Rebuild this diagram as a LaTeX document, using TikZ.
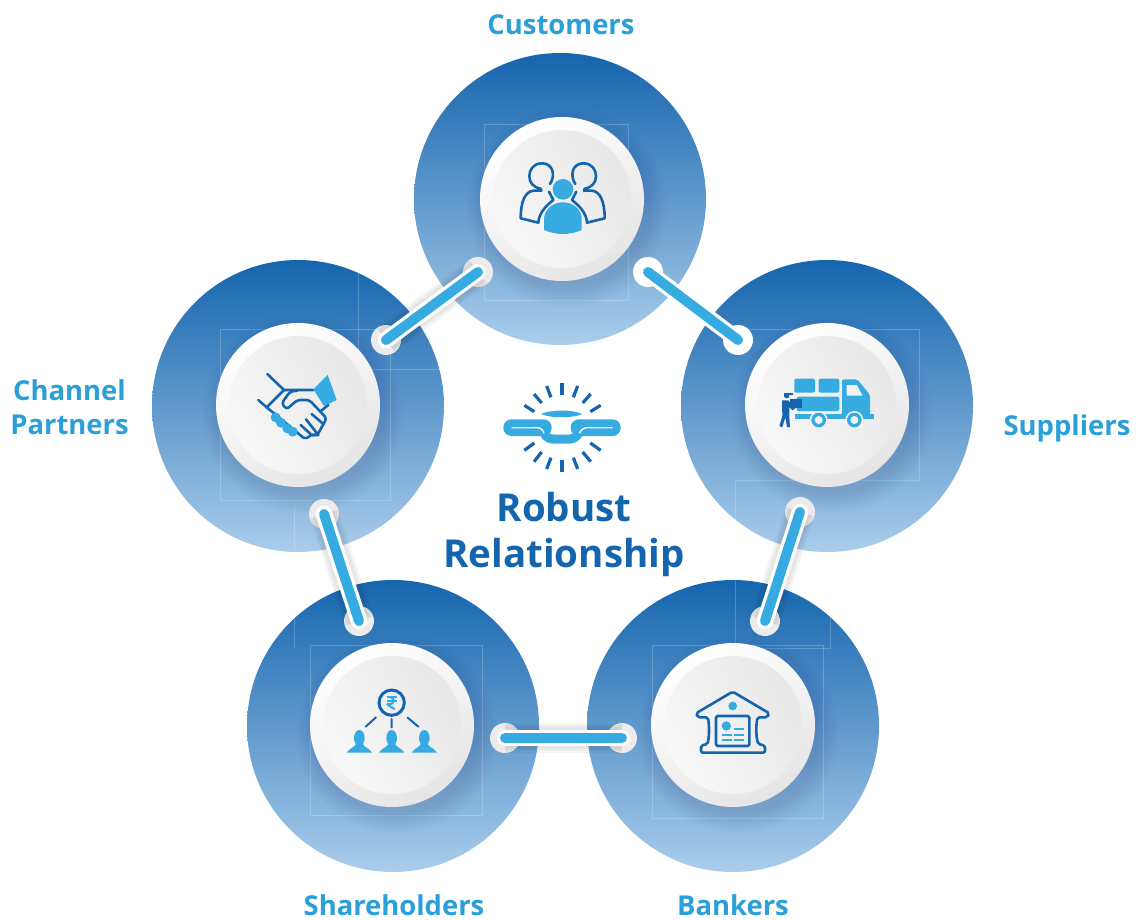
\documentclass[tikz,border=0pt]{standalone}
\usepackage{fontspec}
\setmainfont{Open Sans}
\definecolor{deepblue}{HTML}{1565AE}
\definecolor{paleblue}{HTML}{AACDEB}
\definecolor{skyblue}{HTML}{36ABE2}
\definecolor{labelblue}{HTML}{2A9FD8}
\tikzset{
	bigdisc/.style={circle,minimum size=292,inner sep=0,top color=deepblue,bottom color=paleblue},
	rimdisc/.style={circle,minimum size=164,inner sep=0,shading=axis,left color=white,right color=black!10,shading angle=30},
	facedisc/.style={circle,minimum size=138,inner sep=0,shading=axis,left color=black!9,right color=black!3,shading angle=-60},
	joint/.style={circle,fill=black!8,minimum size=30,inner sep=0},
	whitejoint/.style={joint,fill=white},
	casing/.style={white,line width=16.5,line cap=round},
	linkbar/.style={skyblue,line width=10,line cap=round},
	barshade/.style={black,opacity=.035,line cap=butt},
	ghost/.style={white,opacity=.2,line width=.6},
	tag/.style={labelblue,font=\fontsize{27.4}{34}\selectfont\bfseries,align=center,inner sep=0},
	title/.style={deepblue,font=\fontsize{38.5}{46}\selectfont\bfseries,align=center,inner sep=0},
	darkline/.style={deepblue,line width=2.6,line cap=round,line join=round},
	iconfill/.style={fill=skyblue,draw=none}
}
\begin{document}
\begin{tikzpicture}[x=1pt,y=-1pt]
	\useasboundingbox (0,0) rectangle (1138,920);

	% big discs
	\node[bigdisc] (customers) at (560,199) {};
	\node[bigdisc] (channel) at (298,406) {};
	\node[bigdisc] (suppliers) at (827,406) {};
	\node[bigdisc] (shareholders) at (393,726) {};
	\node[bigdisc] (bankers) at (733,726) {};

	% faint guide boxes
	\draw[ghost] (484,124) rectangle (628,300);
	\draw[ghost] (220,329) rectangle (390,500);
	\draw[ghost] (358,272) -- (358,369) -- (440,369);
	\draw[ghost] (735,329) -- (919,329) -- (919,480) -- (735,480) -- (735,540);
	\draw[ghost] (310,645) rectangle (482,815);
	\draw[ghost] (294,505) -- (294,648);
	\draw[ghost] (652,645) rectangle (823,818);
	\draw[ghost] (735,580) -- (735,648) -- (830,648) -- (830,600);

	% shadows and white discs
	\foreach \cx/\cy in {562/199,298/405,827/405,392/725,733/725}{
			\foreach \r in {0,3,...,18}{
					\fill[black!70!blue,opacity=.016] (\cx+5,\cy+9) circle (82+\r);
				}
		}
	\node[rimdisc] (customersrim) at (562,199) {};
	\node[rimdisc] (channelrim) at (298,405) {};
	\node[rimdisc] (suppliersrim) at (827,405) {};
	\node[rimdisc] (shareholdersrim) at (392,725) {};
	\node[rimdisc] (bankersrim) at (733,725) {};
	\node[facedisc] at (customersrim) {};
	\node[facedisc] at (channelrim) {};
	\node[facedisc] at (suppliersrim) {};
	\node[facedisc] at (shareholdersrim) {};
	\node[facedisc] at (bankersrim) {};

	% links
	\node[joint] (ja) at (478,272) {};
	\node[joint] (jb) at (386,340) {};
	\node[whitejoint] (jc) at (648,272) {};
	\node[whitejoint] (jd) at (738,340) {};
	\node[joint] (je) at (324,514) {};
	\node[joint] (jf) at (359,621) {};
	\node[joint] (jg) at (800,512) {};
	\node[joint] (jh) at (765,621) {};
	\node[joint] (ji) at (505,738) {};
	\node[joint] (jj) at (622,738) {};
	\foreach \p/\q in {ja/jb,je/jf,jg/jh,ji/jj}{
			\foreach \w in {30,26,22}{
					\draw[barshade,line width=\w] (\p.center) -- (\q.center);
				}
		}
	\foreach \p/\q in {ja/jb,jc/jd,je/jf,jg/jh,ji/jj}{
			\draw[casing] (\p.center) -- (\q.center);
			\draw[linkbar] (\p.center) -- (\q.center);
		}

	% customers icon
	\begin{scope}[shift={(470,110)},scale=1/3]
		\foreach \s/\o in {1/0,-1/556}{
				\begin{scope}[shift={(\o,0)},xscale=\s]
					\draw[darkline] (240,222) .. controls (258,195) and (248,160) .. (216,160) .. controls (190,160) and (178,180) .. (178,198) .. controls (178,218) and (190,232) .. (212,236) -- (214,242) -- (190,242) .. controls (165,245) and (152,275) .. (152,325) -- (205,338) .. controls (207,310) and (225,290) .. (250,270) -- (237,245);
				\end{scope}
			}
		\fill[iconfill] (279,238) circle (31);
		\fill[iconfill] (222,360) -- (222,325) .. controls (225,295) and (250,277) .. (279,277) .. controls (308,277) and (333,295) .. (335,325) -- (335,360) .. controls (298,376) and (260,376) .. (222,360) -- cycle;
	\end{scope}

	% handshake icon
	\begin{scope}[shift={(210,320)},scale=1/3]
		\draw[darkline] (172,162) -- (222,210) -- (310,210);
		\draw[darkline] (145,240) -- (170,262);
		\draw[darkline] (222,210) -- (170,262) -- (262,338);
		\draw[darkline] (330,275) -- (355,255);
		\draw[darkline,rounded corners=3] (262,212) -- (240,215) -- (215,250) -- (230,268) -- (262,240) -- (298,240) -- (350,295) -- (322,345) -- (305,345);
		\draw[darkline,rounded corners=2] (262,338) -- (285,357) -- (305,345) -- (272,315);
		\draw[darkline] (305,345) -- (325,345) -- (288,298);
		\draw[darkline] (340,312) -- (305,282);
		\fill[iconfill] (310,208) -- (353,165) -- (380,240) -- (342,258) -- cycle;
		\foreach \x/\y in {197/292,213/308,232/325,248/335}{
				\fill[iconfill] (\x,\y) circle (15);
			}
	\end{scope}

	% truck icon
	\begin{scope}[shift={(740,330)},scale=1/3]
		\fill[iconfill,rounded corners=2] (163,146) rectangle (225,188);
		\fill[iconfill,rounded corners=2] (236,146) rectangle (298,188);
		\fill[iconfill,rounded corners=2] (170,200) rectangle (298,243);
		\fill[iconfill,rounded corners=2] (306,148) -- (352,148) -- (390,195) -- (390,266) -- (306,266) -- cycle;
		\fill[iconfill] (165,251) rectangle (403,267);
		\fill[white!95!black] (320,165) -- (350,165) -- (368,197) -- (320,197) -- cycle;
		\foreach \x in {236,343}{
				\fill[white!95!black] (\x,270) circle (27);
				\fill[skyblue] (\x,270) circle (22);
				\fill[white!95!black] (\x,270) circle (12);
			}
		% porter
		\fill[deepblue] (140,197) circle (8);
		\fill[deepblue] (132,190) rectangle (158,196);
		\fill[deepblue] (150,207) rectangle (185,235);
		\fill[deepblue] (126,211) -- (145,211) -- (165,235) -- (158,241) -- (148,232) -- (148,262) -- (150,291) -- (141,291) -- (136,262) -- (127,291) -- (118,289) -- (127,258) -- cycle;
	\end{scope}

	% shareholders icon
	\begin{scope}[shift={(310,640)},scale=1/3]
		\draw[deepblue,line width=3] (245,188) circle (38);
		\draw[skyblue,line width=2.2] (230,171) -- (260,171) (230,182) -- (260,182);
		\draw[skyblue,line width=2.2,line join=round] (240,171) .. controls (255,171) and (255,193) .. (238,193) -- (232,193) -- (254,208);
		\draw[darkline,line width=2] (167,260) -- (198,232) (245,237) -- (245,262) (293,233) -- (325,260);
		\foreach \x in {148,245,343}{
				\fill[iconfill] (\x,294) ellipse (16 and 24);
				\fill[iconfill] (\x-38,338) .. controls (\x-30,325) and (\x-15,322) .. (\x-10,312) -- (\x+10,312) .. controls (\x+15,322) and (\x+30,325) .. (\x+38,338) -- cycle;
			}
	\end{scope}

	% bank icon
	\begin{scope}[shift={(650,640)},scale=1/3]
		\draw[darkline,rounded corners=2] (248,155) -- (358,220) -- (352,232) -- (322,232) .. controls (318,260) and (318,290) .. (325,313) -- (345,316) -- (345,338) -- (153,338) -- (153,316) -- (172,313) .. controls (178,290) and (178,260) .. (174,232) -- (143,232) -- (138,220) -- cycle;
		\draw[darkline,rounded corners=1.5] (198,228) rectangle (298,318);
		\fill[iconfill] (248,198) circle (13);
		\fill[iconfill] (229,258) circle (14);
		\foreach \y in {285,300}{
				\draw[skyblue,line width=2.2] (216,\y) -- (246,\y);
				\draw[skyblue,line width=2.2] (252,\y) -- (282,\y);
			}
		\draw[skyblue,line width=2.2] (252,267) -- (282,267);
	\end{scope}

	% chain
	\begin{scope}[shift={(480,370)},scale=1/3]
		\foreach \a/\b/\c/\d in {246/40/246/75,200/48/213/82,293/48/280/82,162/72/185/99,332/72/308/99,133/106/163/125,362/106/331/125,246/305/246/270,200/297/213/263,293/297/280/263,162/275/185/246,332/275/308/246,133/241/163/219,362/241/331/219}{
				\draw[deepblue,line width=3.2] (\a,\b) -- (\c,\d);
			}
		\fill[iconfill,rounded corners=8] (70,148) rectangle (215,198);
		\fill[iconfill,rounded corners=8] (272,148) rectangle (422,198);
		\draw[skyblue,line width=9,rounded corners=9] (191,160) -- (191,207) -- (297,207) -- (297,160);
		\fill[white] (222,150) rectangle (268,193);
		\fill[iconfill] (183,132) .. controls (215,118) and (275,118) .. (307,132) .. controls (280,145) and (210,145) .. (183,132) -- cycle;
		\draw[white,line width=1.3] (95,173) -- (155,173) .. controls (175,173) and (185,170) .. (192,190);
		\draw[white,line width=1.3] (398,173) -- (338,173) .. controls (318,173) and (308,170) .. (298,190);
	\end{scope}

	% labels
	\node[tag] (customerstag) at (561,25) {Customers};
	\node[tag] (supplierstag) at (1067,428) {Suppliers};
	\node[tag] (channeltag) at (69.5,407.5) {Channel\\Partners};
	\node[tag] (shareholderstag) at (394,905) {Shareholders};
	\node[tag] (bankerstag) at (733,905) {Bankers};
	\node[title] (robusttitle) at (564,534) {Robust\\Relationship};
\end{tikzpicture}
\end{document}
